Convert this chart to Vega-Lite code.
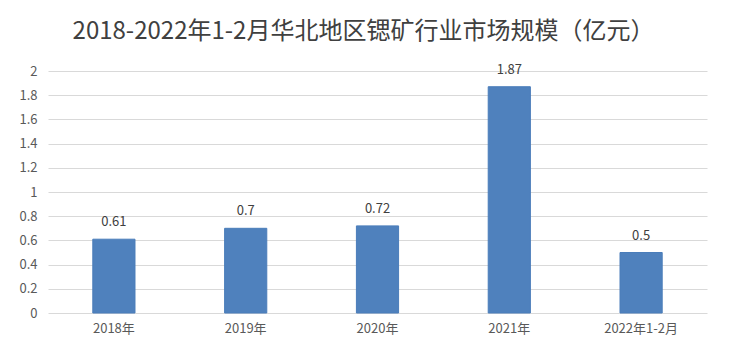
{
  "$schema": "https://vega.github.io/schema/vega-lite/v6.json",
  "autosize": "none",
  "width": 659,
  "height": 242,
  "padding": {"left": 48, "top": 71, "right": 27, "bottom": 49},
  "background": "white",
  "title": {
    "text": "2018-2022年1-2月华北地区锶矿行业市场规模（亿元）",
    "font": "Noto Sans CJK SC",
    "fontSize": 24,
    "fontWeight": "normal",
    "color": "#404040",
    "anchor": "middle",
    "frame": "group",
    "dx": -14,
    "offset": 20
  },
  "data": {
    "values": [
      {"year": "2018年", "value": 0.61},
      {"year": "2019年", "value": 0.7},
      {"year": "2020年", "value": 0.72},
      {"year": "2021年", "value": 1.87},
      {"year": "2022年1-2月", "value": 0.5}
    ]
  },
  "encoding": {
    "x": {
      "field": "year",
      "type": "nominal",
      "sort": null,
      "scale": {"paddingInner": 0.68, "paddingOuter": 0.34},
      "axis": {
        "title": null,
        "labelAngle": 0,
        "labelFont": "Noto Sans CJK SC",
        "labelFontSize": 13,
        "labelColor": "#595959",
        "labelPadding": 9,
        "ticks": false,
        "domain": false
      }
    },
    "y": {
      "field": "value",
      "type": "quantitative",
      "scale": {"domain": [0, 2]},
      "axis": {
        "title": null,
        "values": [0, 0.2, 0.4, 0.6, 0.8, 1, 1.2, 1.4, 1.6, 1.8, 2],
        "format": "~g",
        "labelFont": "Noto Sans CJK SC",
        "labelFontSize": 13,
        "labelColor": "#595959",
        "labelPadding": 11,
        "ticks": false,
        "domain": false,
        "grid": true,
        "gridColor": "#D9D9D9",
        "gridWidth": 1
      }
    }
  },
  "layer": [
    {
      "mark": {"type": "bar", "color": "#4F81BD", "stroke": "#4A7DBA", "strokeWidth": 1}
    },
    {
      "mark": {
        "type": "text",
        "baseline": "bottom",
        "dy": -10,
        "font": "Noto Sans CJK SC",
        "fontSize": 13,
        "color": "#404040"
      },
      "encoding": {"text": {"field": "value", "type": "quantitative"}}
    }
  ],
  "config": {"view": {"stroke": null}}
}
